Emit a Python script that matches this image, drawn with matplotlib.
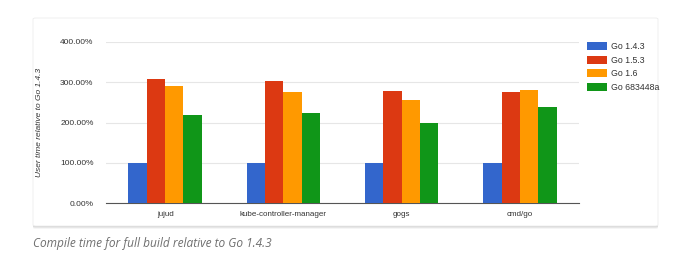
import numpy as np
import matplotlib.pyplot as plt
from matplotlib.patches import FancyBboxPatch
from matplotlib.ticker import FuncFormatter

projects = ["jujud", "kube-controller-manager", "gogs", "cmd/go"]
versions = ["Go 1.4.3", "Go 1.5.3", "Go 1.6", "Go 683448a"]
go143 = [100, 100, 100, 100]
go153 = [309, 304, 278, 275]
go16 = [291, 277, 255, 280]
go683 = [219, 223, 199, 239]
colors = ["#3366cc", "#dc3912", "#ff9900", "#109618"]

plt.rcParams["font.family"] = ["Liberation Sans", "DejaVu Sans"]

W, H = 681, 268
fig = plt.figure(figsize=(W / 100, H / 100), dpi=100)

# card background with a soft shadow (drawn behind the axes)
for off, alpha in [(3, 0.04), (2, 0.06), (1, 0.08)]:
    fig.patches.append(FancyBboxPatch((33 / W, (H - 226 - off) / H), 625 / W, 208 / H,
                                      boxstyle="round,pad=0,rounding_size=0.004",
                                      transform=fig.transFigure, fc="black", ec="none",
                                      alpha=alpha, zorder=-2))
fig.patches.append(FancyBboxPatch((33 / W, (H - 226) / H), 625 / W, 208 / H,
                                  boxstyle="round,pad=0,rounding_size=0.004",
                                  transform=fig.transFigure, fc="white", ec="#ececec",
                                  lw=0.6, zorder=-1))

ax = fig.add_axes([106 / W, (H - 203) / H, 473 / W, 161 / H])
ax.set_facecolor("none")

x = np.arange(len(projects))
w = 0.155
series = [go143, go153, go16, go683]
for i, (vals, c, lab) in enumerate(zip(series, colors, versions)):
    ax.bar(x + (i - 1.5) * w, vals, w, color=c, label=lab, zorder=3)

ax.set_xlim(-0.5, 3.5)
ax.set_ylim(0, 400)
ax.set_yticks([0, 100, 200, 300, 400])
ax.yaxis.set_major_formatter(FuncFormatter(lambda v, p: f"{v:.2f}%"))
ax.set_xticks(x)
ax.set_xticklabels(projects)
ax.grid(axis="y", color="#e6e6e6", lw=0.8, zorder=0)
for s in ["top", "right", "left"]:
    ax.spines[s].set_visible(False)
ax.spines["bottom"].set_color("#555555")
ax.spines["bottom"].set_linewidth(0.8)
ax.tick_params(axis="x", length=0, labelsize=5.8, colors="#333333", pad=6)
ax.tick_params(axis="y", length=0, labelsize=6.0, colors="#333333", pad=9)
ax.set_ylabel("User time relative to Go 1.4.3", fontsize=6.0, style="italic",
              color="#333333", labelpad=12)

ax.legend(loc="upper left", bbox_to_anchor=(1.017, 1.0), frameon=False,
          fontsize=6.3, handlelength=2.3, handleheight=1.1, handletextpad=0.4,
          labelspacing=0.5, borderaxespad=0, borderpad=0, labelcolor="#333333")

fig.text(33 / W, 1 - 243 / H, "Compile time for full build relative to Go 1.4.3",
         fontsize=8.6, style="italic", color="#6f6f6f", va="center",
         family="Open Sans")

fig.savefig("out.png", dpi=100)
